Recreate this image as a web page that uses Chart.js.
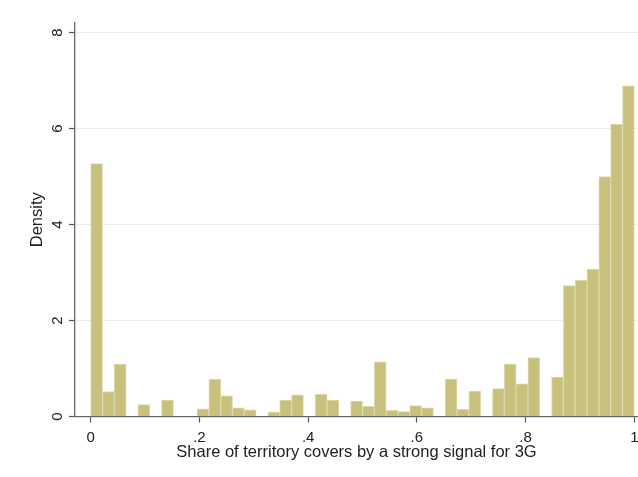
<!DOCTYPE html>
<html>
<head>
<meta charset="utf-8">
<script src="https://cdn.jsdelivr.net/npm/chart.js@4"></script>
<style>
html,body{margin:0;padding:0;background:#ffffff;}
#wrap{width:638px;height:477px;position:relative;}
</style>
</head>
<body>
<div id="wrap"><canvas id="c" width="638" height="477"></canvas></div>
<script>
// Histogram: 46 equal-width bins on [0, 1]
const binCount = 46;
const densities = [
  5.27, 0.52, 1.09, 0.00, 0.25, 0.00, 0.34, 0.00, 0.00, 0.16,
  0.78, 0.43, 0.18, 0.14, 0.00, 0.09, 0.34, 0.45, 0.00, 0.46,
  0.34, 0.00, 0.32, 0.21, 1.14, 0.13, 0.10, 0.23, 0.18, 0.00,
  0.78, 0.15, 0.53, 0.00, 0.58, 1.09, 0.68, 1.23, 0.00, 0.82,
  2.73, 2.84, 3.07, 5.00, 6.09, 6.89
];
const xTickValues = [0, 0.2, 0.4, 0.6, 0.8, 1];
const xTickLabels = ['0', '.2', '.4', '.6', '.8', '1'];
const yTickValues = [0, 2, 4, 6, 8];
const yTickLabels = ['0', '2', '4', '6', '8'];
const xTitle = 'Share of territory covers by a strong signal for 3G';
const yTitle = 'Density';

const binWidth = 1 / binCount;
const points = densities.map((d, i) => ({ x: (i + 0.5) * binWidth, y: d }));
const FONT = "'Liberation Sans', Arial, 'DejaVu Sans', sans-serif";

new Chart(document.getElementById('c').getContext('2d'), {
  type: 'bar',
  data: {
    datasets: [{
      data: points,
      backgroundColor: '#c8c17e',
      borderColor: '#dcd8aa',
      borderWidth: 1,
      borderSkipped: 'bottom',
      barPercentage: 1,
      categoryPercentage: 1
    }]
  },
  options: {
    responsive: false,
    animation: false,
    events: [],
    layout: { padding: { top: 23, left: 0, right: 0, bottom: 0 } },
    plugins: { legend: { display: false }, tooltip: { enabled: false } },
    scales: {
      x: {
        type: 'linear',
        min: -0.0289,
        max: 1.0068,
        offset: false,
        afterBuildTicks: s => { s.ticks = xTickValues.map(v => ({ value: v })); },
        afterFit: s => { s.height = 60.5; s.paddingLeft = 0; s.paddingRight = 0; },
        grid: { offset: false, drawOnChartArea: false, drawTicks: true, tickLength: 6, tickColor: '#555', tickWidth: 1.2 },
        border: { color: '#666', width: 1.3 },
        ticks: {
          callback: (v, i) => xTickLabels[i],
          font: { family: FONT, size: 15 },
          color: '#222',
          padding: 6,
          minRotation: 0, maxRotation: 0, autoSkip: false
        },
        title: {
          display: true, text: xTitle,
          font: { family: FONT, size: 16.5 }, color: '#222',
          padding: { top: 0, bottom: 14.5 }
        }
      },
      y: {
        min: 0,
        max: 8.2,
        afterBuildTicks: s => { s.ticks = yTickValues.map(v => ({ value: v })); },
        afterFit: s => { s.width = 75; s.paddingTop = 0; s.paddingBottom = 0; },
        grid: { color: '#ececec', lineWidth: 1, tickColor: '#555', tickLength: 6, tickWidth: 1.2 },
        border: { color: '#666', width: 1.3 },
        ticks: {
          callback: (v, i) => yTickLabels[i],
          font: { family: FONT, size: 15 },
          color: '#222',
          padding: 7,
          minRotation: 90, maxRotation: 90,
          crossAlign: 'center',
          autoSkip: false
        },
        title: {
          display: true, text: yTitle,
          font: { family: FONT, size: 16.5 }, color: '#222',
          padding: { top: 28, bottom: 0 }
        }
      }
    }
  }
});
</script>
</body>
</html>
